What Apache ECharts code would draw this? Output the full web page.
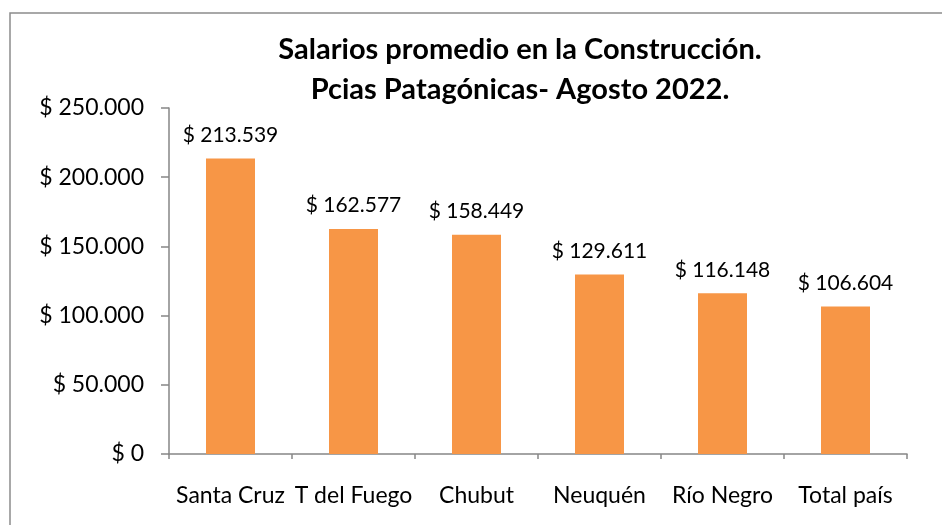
<!DOCTYPE html>
<html>
<head>
<meta charset="utf-8">
<script src="https://cdn.jsdelivr.net/npm/echarts@6/dist/echarts.min.js"></script>
<style>
  html, body { margin: 0; padding: 0; background: #fff; }
  #chart { width: 942px; height: 525px; }
</style>
</head>
<body>
<div id="chart"></div>
<script>
// categories and values
const provincias = ["Santa Cruz", "T del Fuego", "Chubut", "Neuquén", "Río Negro", "Total país"];
const salarios = [213539, 162577, 158449, 129611, 116148, 106604];
const tituloLineas = ["Salarios promedio en la Construcción.", "Pcias Patagónicas- Agosto 2022."];

function pesos(v) {
    return "$ " + String(v).replace(/\B(?=(\d{3})+(?!\d))/g, ".");
}

let chart = echarts.init(document.getElementById("chart"));
let option = {
    animation: false,
    backgroundColor: "#fff",
    textStyle: { fontFamily: "Lato" },
    graphic: [{
        type: "rect",
        shape: { x: 10, y: 13, width: 1000, height: 600 },
        style: { fill: "none", stroke: "#8c8c8c", lineWidth: 1.5 }
    }],
    title: {
        text: tituloLineas.join("\n"),
        left: 515,
        top: 25,
        textAlign: "center",
        textStyle: {
            fontFamily: "Lato",
            fontWeight: "bold",
            fontSize: 29,
            lineHeight: 40,
            color: "#000"
        }
    },
    grid: {
        left: 169,
        right: 35,
        top: 108,
        bottom: 71,
        containLabel: false
    },
    xAxis: {
        type: "category",
        data: provincias,
        axisLine: { lineStyle: { color: "#868686", width: 1.5 } },
        axisTick: { show: true, length: 5, lineStyle: { color: "#868686", width: 1.5 } },
        axisLabel: { color: "#000", fontSize: 23, margin: 30, interval: 0 },
        splitLine: { show: false }
    },
    yAxis: {
        type: "value",
        min: 0,
        max: 250000,
        interval: 50000,
        axisLine: { show: true, lineStyle: { color: "#868686", width: 1.5 } },
        axisTick: { show: true, length: 8, lineStyle: { color: "#868686", width: 1.5 } },
        axisLabel: { color: "#000", fontSize: 23, margin: 25, formatter: pesos },
        splitLine: { show: false }
    },
    series: [{
        type: "bar",
        data: salarios,
        barWidth: 49,
        itemStyle: { color: "#F79646" },
        label: {
            show: true,
            position: "top",
            distance: 13,
            color: "#000",
            fontSize: 21,
            formatter: p => pesos(p.value)
        }
    }]
};
chart.setOption(option, true);
</script>
</body>
</html>
